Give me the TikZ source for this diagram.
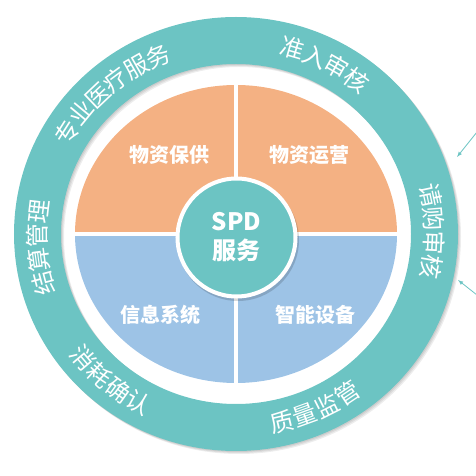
\documentclass[tikz,border=0pt]{standalone}
\usepackage{fontspec}
\setmainfont{Noto Sans CJK SC}
\usetikzlibrary{decorations.text}

\definecolor{ringteal}{HTML}{6CC4C3}
\definecolor{qorange}{HTML}{F4B183}
\definecolor{qblue}{HTML}{9DC3E6}
\newcommand{\ringfont}{\fontsize{24}{24}\selectfont}

\begin{document}
\begin{tikzpicture}[x=1pt, y=1pt]
 \tikzstyle{ringtext}=[decorate, decoration={text along path, text align=center, raise=-9pt, text color=white}]
 \tikzstyle{quadlabel}=[text=white, font=\fontsize{20}{20}\selectfont\bfseries]
 \tikzstyle{pointer}=[->, >=latex, ringteal, line width=0.8]
 \useasboundingbox (-236,-242) rectangle (240,234);
 %
 % outer ring with a soft shadow
 \foreach \s in {1,2,3} {
 \fill[black, opacity=0.07, even odd rule, shift={(\s,-\s)}] (0,0) ellipse[x radius=222, y radius=217] (0,0) ellipse[x radius=175, y radius=170];
 }
 \fill[ringteal, even odd rule] (0,0) ellipse[x radius=222, y radius=217] (0,0) ellipse[x radius=175, y radius=170];
 %
 \path[ringtext, decoration={text={|\ringfont|专业医疗服务}}] (170:198.5 and 193.5) arc[start angle=170, end angle=92, x radius=198.5, y radius=193.5];
 \path[ringtext, decoration={text={|\ringfont|准入审核}}] (93:198.5 and 193.5) arc[start angle=93, end angle=33, x radius=198.5, y radius=193.5];
 \path[ringtext, decoration={text={|\ringfont|请购审核}}] (31:198.5 and 193.5) arc[start angle=31, end angle=-29, x radius=198.5, y radius=193.5];
 \path[ringtext, decoration={text={|\ringfont|质量监管}}] (-96:198.5 and 193.5) arc[start angle=-96, end angle=-36, x radius=198.5, y radius=193.5];
 \path[ringtext, decoration={text={|\ringfont|消耗确认}}] (-160:198.5 and 193.5) arc[start angle=-160, end angle=-100, x radius=198.5, y radius=193.5];
 \path[ringtext, decoration={text={|\ringfont|结算管理}}] (214:198.5 and 193.5) arc[start angle=214, end angle=154, x radius=198.5, y radius=193.5];
 %
 % four quarters
 \fill[qorange] (-161,0) arc[start angle=180, end angle=0, x radius=161, y radius=149] -- cycle;
 \fill[qblue] (-161,0) arc[start angle=180, end angle=360, x radius=161, y radius=149] -- cycle;
 \draw[white, line width=3.5] (-165,0) -- (165,0);
 \draw[white, line width=3.5] (0,152) -- (0,-152);
 %
 \node[quadlabel] (wzbg) at (-66,79) {物资保供};
 \node[quadlabel] (wzyy) at (73,79) {物资运营};
 \node[quadlabel] (xxxt) at (-75,-81) {信息系统};
 \node[quadlabel] (znsb) at (79,-81) {智能设备};
 %
 % centre
 \fill[black, opacity=0.15] (2,-6) circle (61);
 \node[circle, fill=ringteal, draw=white, line width=4, minimum size=118, align=center, text=white, font=\fontsize{24}{29}\selectfont\bfseries] (spd) at (0.5,-3.5) {SPD\\服务};
 %%
 \coordinate (p1) at (241,102);
 \coordinate (t1) at (221,77);
 \coordinate (p2) at (241,-61);
 \coordinate (t2) at (222,-46);
 \draw[pointer] (p1)--(t1);
 \draw[pointer] (p2)--(t2);
\end{tikzpicture}
\end{document}
